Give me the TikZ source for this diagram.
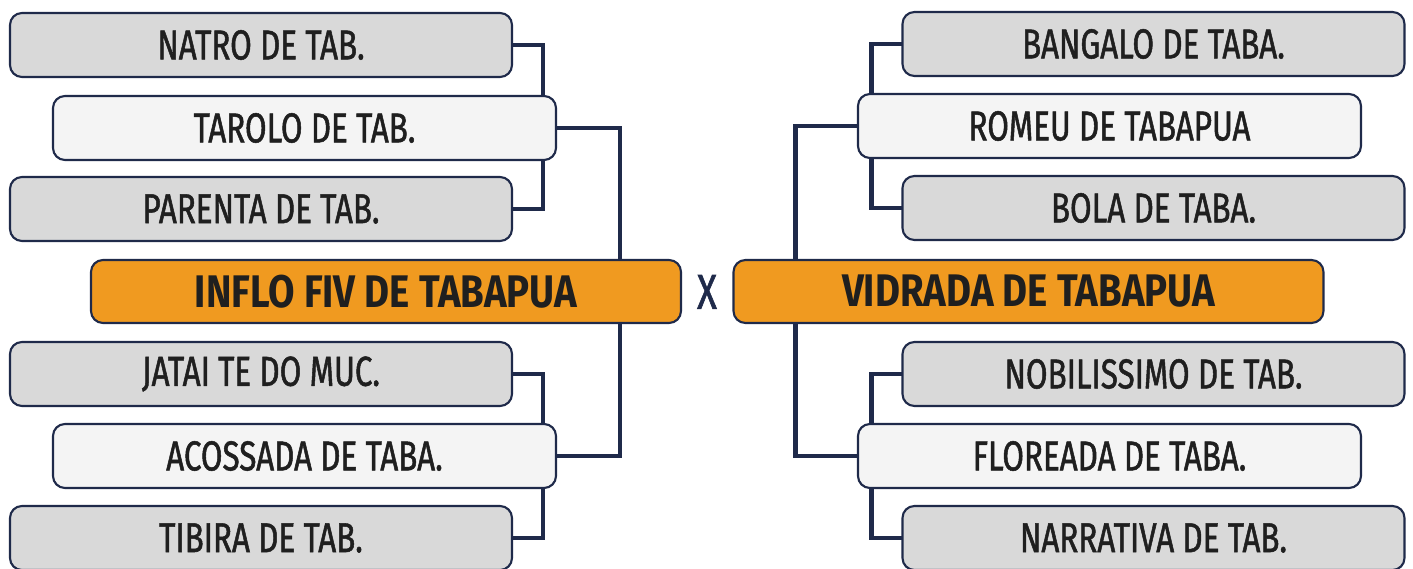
\documentclass[tikz,border=0pt]{standalone}
\usepackage{fontspec}
\setmainfont{Fira Sans}[FakeStretch=0.74]
\newfontfamily\entryfont{Fira Sans}[FakeStretch=0.75, FakeBold=1.2]
\newfontfamily\finalfont{Fira Sans}[FakeStretch=0.84]
\usetikzlibrary{positioning,calc,backgrounds}
\definecolor{navy}{HTML}{1F2A4A}
\definecolor{boxgray}{HTML}{D9D9D9}
\definecolor{boxlight}{HTML}{F4F4F4}
\definecolor{boxorange}{HTML}{F09A20}
\tikzset{
  entry/.style={draw=navy, line width=0.6pt, rounded corners=3.4pt, inner sep=0pt, outer sep=0pt,
    minimum height=0.64cm, text=black!88, font=\entryfont\fontsize{11.9}{12}\selectfont},
  seed/.style={entry, fill=boxgray, minimum width=5.02cm},
  pick/.style={entry, fill=boxlight, minimum width=5.03cm},
  final/.style={entry, fill=boxorange, minimum width=5.9cm, minimum height=0.63cm,
    font=\finalfont\fontsize{13}{14}\selectfont\bfseries},
  link/.style={draw=navy, line width=1.2pt}
}

\begin{document}
\begin{tikzpicture}
  \useasboundingbox (0,0) rectangle (14.13,-5.69);
  % left bracket
  \node[seed]  (natro)    at (2.61,-0.45)  {NATRO DE TAB.};
  \node[pick]  (tarolo)   at (3.045,-1.28) {TAROLO DE TAB.};
  \node[seed]  (parenta)  at (2.61,-2.09)  {PARENTA DE TAB.};
  \node[final] (inflo)    at (3.86,-2.915) {INFLO FIV DE TABAPUA};
  \node[seed]  (jatai)    at (2.61,-3.74)  {JATAI TE DO MUC.};
  \node[pick]  (acossada) at (3.045,-4.56) {ACOSSADA DE TABA.};
  \node[seed]  (tibira)   at (2.61,-5.38)  {TIBIRA DE TAB.};
  % right bracket
  \node[seed]  (bangalo)  at (11.535,-0.44) {BANGALO DE TABA.};
  \node[pick]  (romeu)    at (11.095,-1.26) {ROMEU DE TABAPUA};
  \node[seed]  (bola)     at (11.535,-2.08) {BOLA DE TABA.};
  \node[final] (vidrada)  at (10.285,-2.915) {VIDRADA DE TABAPUA};
  \node[seed]  (nobil)    at (11.535,-3.74) {NOBILISSIMO DE TAB.};
  \node[pick]  (floreada) at (11.095,-4.56) {FLOREADA DE TABA.};
  \node[seed]  (narrativa) at (11.535,-5.38) {NARRATIVA DE TAB.};
  \node[text=navy, font=\entryfont\fontsize{14}{15}\selectfont] (versus) at (7.07,-2.92) {X};

  \begin{scope}[on background layer]
    \draw[link] (natro.east) -- ++(0.31,0) |- (parenta.east);
    \draw[link] (jatai.east) -- ++(0.31,0) |- (tibira.east);
    \draw[link] (tarolo.east) -| ([xshift=-6.1mm]inflo.north east);
    \draw[link] ([xshift=-6.1mm]inflo.south east) |- (acossada.east);
    \draw[link] (bangalo.west) -- ++(-0.31,0) |- (bola.west);
    \draw[link] (nobil.west) -- ++(-0.31,0) |- (narrativa.west);
    \draw[link] (romeu.west) -| ([xshift=6.2mm]vidrada.north west);
    \draw[link] ([xshift=6.2mm]vidrada.south west) |- (floreada.west);
  \end{scope}
\end{tikzpicture}
\end{document}
